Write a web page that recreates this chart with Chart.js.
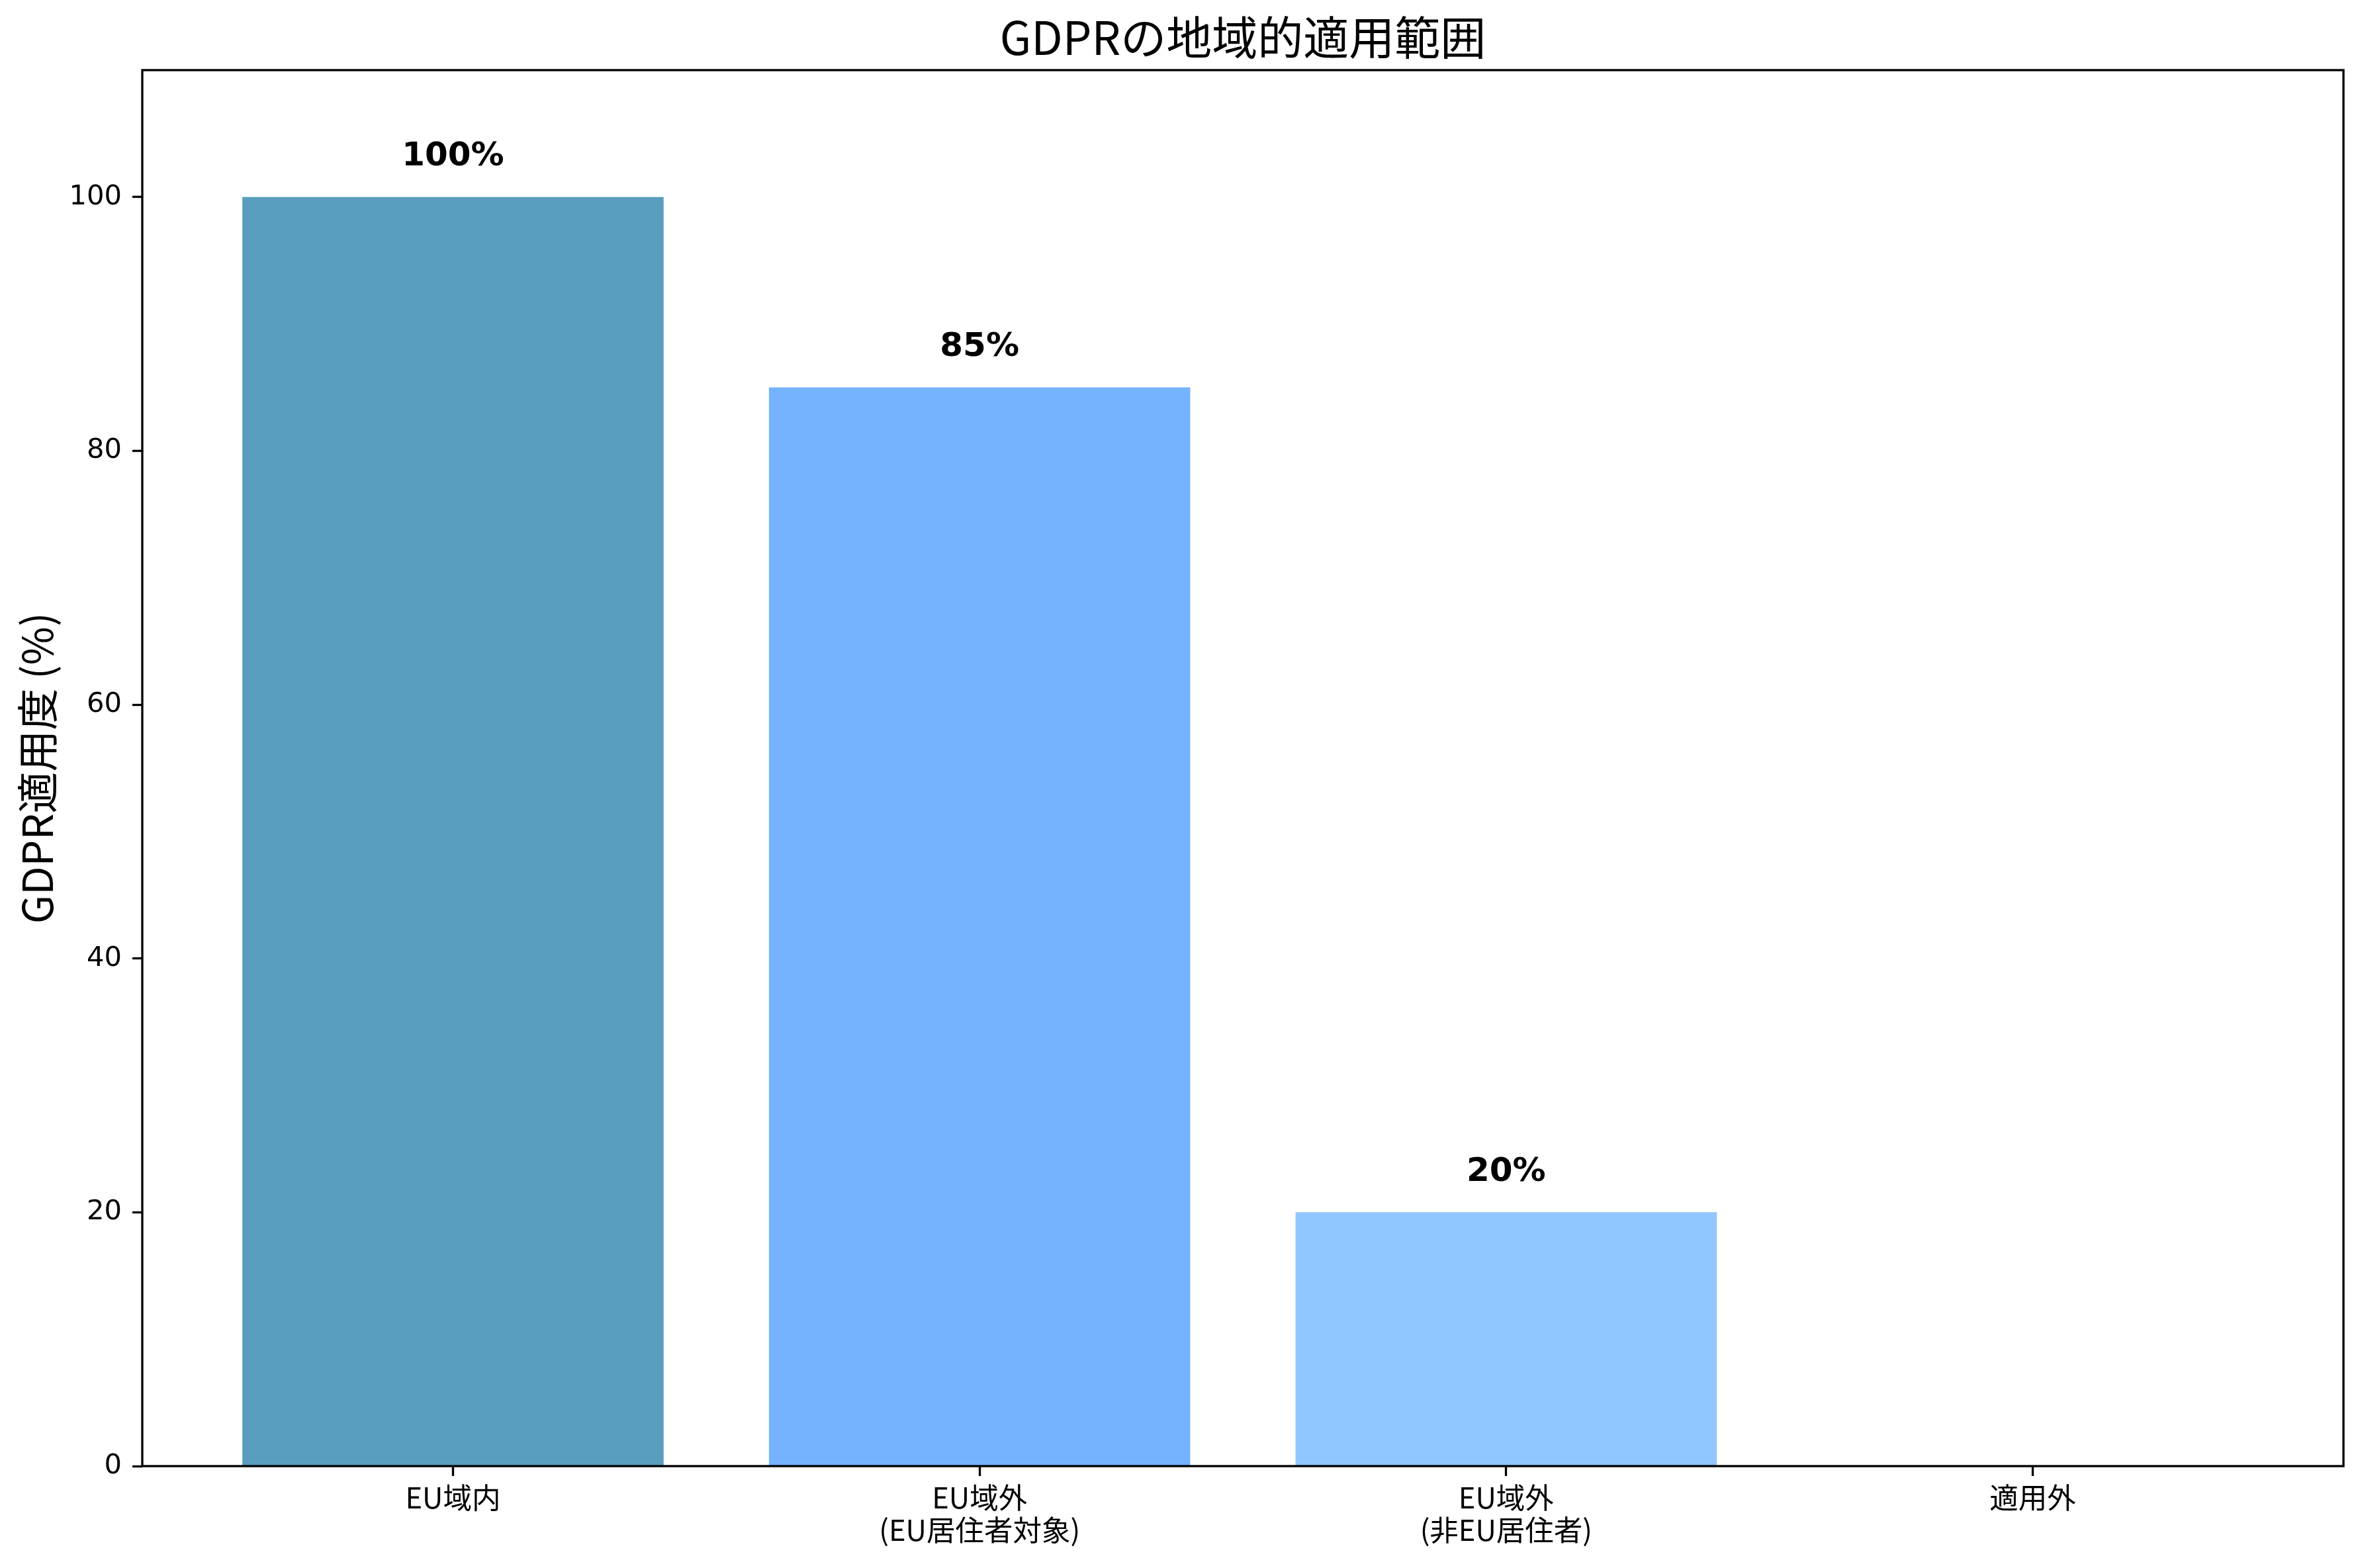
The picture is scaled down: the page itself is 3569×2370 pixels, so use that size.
<!DOCTYPE html>
<html><head><meta charset="utf-8">
<script src="https://cdn.jsdelivr.net/npm/chart.js@4.4.1/dist/chart.umd.min.js"></script>
<style>html,body{margin:0;padding:0;background:#fff;} canvas{display:block;}</style>
</head><body>
<canvas id="c" width="3569" height="2370"></canvas>
<script>
const categories = [['EU域内'], ['EU域外', '(EU居住者対象)'], ['EU域外', '(非EU居住者)'], ['適用外']];
const values = [100, 85, 20, 0];
const barColors = ['rgba(46,134,171,0.8)', 'rgba(84,160,255,0.8)', 'rgba(116,185,255,0.8)', 'rgba(223,230,233,0.8)'];
const yTicks = [0, 20, 40, 60, 80, 100];
const valueLabels = values.map(v => v + '%');
const titleText = 'GDPRの地域的適用範囲';
const yTitle = 'GDPR適用度 (%)';

const CJK = '"Noto Sans CJK JP", "DejaVu Sans", sans-serif';
const DV = '"DejaVu Sans", sans-serif';

const framePlugin = {
  id: 'frame',
  afterDraw(chart) {
    const {ctx, chartArea: a} = chart;
    ctx.save();
    ctx.strokeStyle = '#000';
    ctx.lineWidth = 3.3;
    ctx.strokeRect(a.left, a.top, a.right - a.left, a.bottom - a.top);
    // title centred over the plot area
    ctx.font = '69px ' + CJK;
    ctx.fillStyle = '#000';
    ctx.textAlign = 'center';
    ctx.textBaseline = 'alphabetic';
    ctx.fillText(titleText, (a.left + a.right) / 2, a.top - 23);
    ctx.restore();
  }
};

const valueLabelPlugin = {
  id: 'valueLabels',
  afterDatasetsDraw(chart) {
    const ctx = chart.ctx;
    const meta = chart.getDatasetMeta(0);
    const ys = chart.scales.y;
    ctx.save();
    ctx.font = 'bold 50px ' + DV;
    ctx.fillStyle = '#000';
    ctx.textAlign = 'center';
    ctx.textBaseline = 'alphabetic';
    meta.data.forEach((bar, i) => {
      if (values[i] > 0) ctx.fillText(valueLabels[i], bar.x, ys.getPixelForValue(values[i] + 2) - 9);
    });
    ctx.restore();
  }
};

new Chart(document.getElementById('c'), {
  type: 'bar',
  data: {
    datasets: [{
      data: values.map((v, i) => ({x: i, y: v})),
      backgroundColor: barColors,
      borderWidth: 0,
      categoryPercentage: 1.0,
      barPercentage: 0.8
    }]
  },
  options: {
    responsive: false,
    devicePixelRatio: 1,
    animation: false,
    layout: {padding: {left: 0, right: 28, top: 106, bottom: 0}},
    plugins: {
      legend: {display: false},
      tooltip: {enabled: false},
      title: {display: false}
    },
    scales: {
      x: {
        type: 'linear',
        offset: false,
        min: -0.59,
        max: 3.59,
        afterBuildTicks(scale) { scale.ticks = categories.map((c, i) => ({value: i})); },
        afterFit(scale) { scale.height = 154; },
        border: {display: false},
        grid: {display: true, offset: false, drawOnChartArea: false, drawTicks: true, tickLength: 15, tickWidth: 3.3, tickColor: '#000'},
        ticks: {
          autoSkip: false,
          maxRotation: 0,
          minRotation: 0,
          padding: 8,
          color: '#000',
          font: {family: CJK, size: 43.5, lineHeight: 1.12},
          callback: (v) => categories[v]
        }
      },
      y: {
        type: 'linear',
        min: 0,
        max: 110,
        afterBuildTicks(scale) { scale.ticks = yTicks.map(v => ({value: v})); },
        afterFit(scale) { scale.width = 215; },
        border: {display: false},
        grid: {display: true, drawOnChartArea: false, drawTicks: true, tickLength: 15, tickWidth: 3.3, tickColor: '#000'},
        ticks: {
          padding: 16,
          color: '#000',
          font: {family: DV, size: 41.7}
        },
        title: {
          display: true,
          text: yTitle,
          color: '#000',
          font: {family: CJK, size: 63, weight: 'normal', lineHeight: 1.2},
          padding: {top: 18, bottom: 0}
        }
      }
    }
  },
  plugins: [framePlugin, valueLabelPlugin]
});
</script>
</body></html>
